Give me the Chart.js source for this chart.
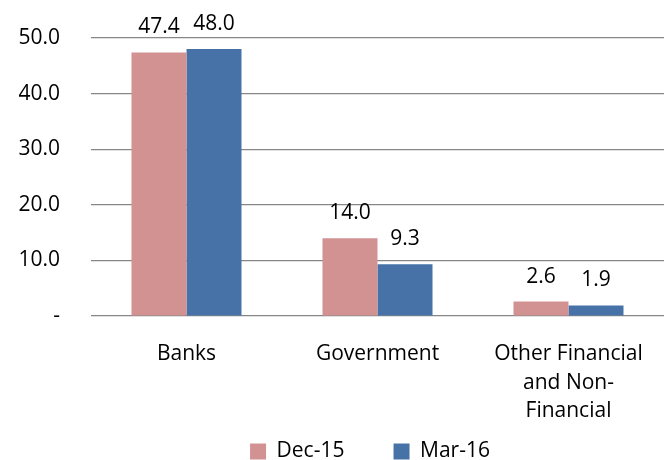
<!DOCTYPE html>
<html>
<head>
<meta charset="utf-8">
<script src="https://cdn.jsdelivr.net/npm/chart.js@4"></script>
<style>
  html, body { margin: 0; padding: 0; background: #fff; }
  #wrap { width: 664px; height: 460px; }
</style>
</head>
<body>
<div id="wrap"><canvas id="chart" width="664" height="460"></canvas></div>
<script>
const categories = ['Banks', 'Government', ['Other Financial', 'and Non-', 'Financial']];
const dec15 = [47.4, 14.0, 2.6];
const mar16 = [48.0, 9.3, 1.9];
const yTicks = [0, 10, 20, 30, 40, 50];

const FONT = '"Open Sans", "Liberation Sans", sans-serif';
const SIZE = 21;

// draws the value above each bar
const valueLabels = {
  id: 'valueLabels',
  afterDatasetsDraw(chart) {
    const ctx = chart.ctx;
    ctx.save();
    ctx.font = SIZE + 'px ' + FONT;
    ctx.fillStyle = '#000';
    ctx.textAlign = 'center';
    ctx.textBaseline = 'alphabetic';
    chart.data.datasets.forEach((ds, i) => {
      chart.getDatasetMeta(i).data.forEach((bar, j) => {
        ctx.fillText(ds.data[j].toFixed(1), bar.x, bar.y - 19);
      });
    });
    ctx.restore();
  }
};

// the original legend sits centred under the plot area, not the whole canvas
const shiftLegend = {
  id: 'shiftLegend',
  afterLayout(chart) {
    chart.legend.left += 76;
  }
};

new Chart(document.getElementById('chart').getContext('2d'), {
  type: 'bar',
  data: {
    labels: categories,
    datasets: [
      { label: 'Dec-15', data: dec15, backgroundColor: '#D29292' },
      { label: 'Mar-16', data: mar16, backgroundColor: '#4672A8' }
    ]
  },
  options: {
    responsive: false,
    animation: false,
    layout: { padding: { top: 38, right: 0, left: 0, bottom: -12 } },
    plugins: {
      legend: {
        position: 'bottom',
        labels: {
          font: { family: FONT, size: SIZE, lineHeight: 0.76 }, color: '#000', boxWidth: 16, boxHeight: 16, padding: 0,
          generateLabels: chart => Chart.defaults.plugins.legend.labels.generateLabels(chart).map((l, i) => {
            if (i === 0) l.text = l.text + '         ';
            return l;
          })
        }
      },
      tooltip: { enabled: false }
    },
    datasets: { bar: { categoryPercentage: 0.576, barPercentage: 1.0 } },
    scales: {
      x: {
        grid: { display: false },
        border: { display: false },
        ticks: { font: { family: FONT, size: SIZE, lineHeight: 1.38 }, color: '#000', maxRotation: 0, autoSkip: false, padding: 15 }
      },
      y: {
        min: 0, max: 50,
        afterBuildTicks: s => { s.ticks = yTicks.map(v => ({ value: v })); },
        afterFit: s => { s.width = 91; s.paddingTop = 0; s.paddingBottom = 0; },
        grid: { color: '#878787', lineWidth: 1.3, drawTicks: false },
        border: { display: false },
        ticks: {
          font: { family: FONT, size: SIZE }, color: '#000', padding: 31,
          callback: v => v === 0 ? '-' : v.toFixed(1)
        }
      }
    }
  },
  plugins: [valueLabels, shiftLegend]
});
</script>
</body>
</html>
